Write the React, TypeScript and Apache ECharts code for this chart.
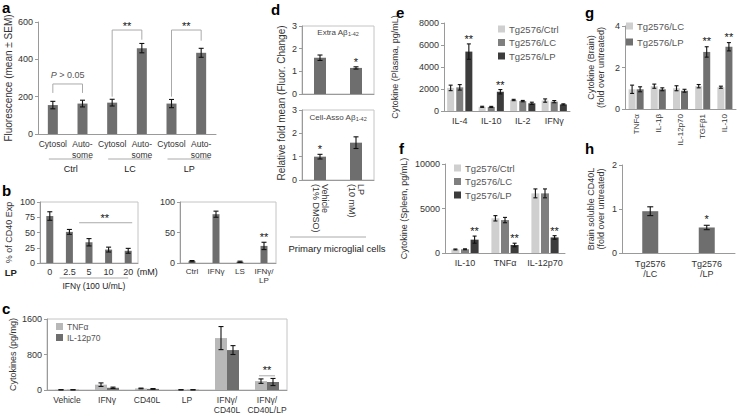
import React, { useEffect, useRef } from 'react';
import * as echarts from 'echarts';

const FN = "'Liberation Sans', Arial, sans-serif";
const FR = "'Liberation Sans', Arial, sans-serif";

// ---- panel a ----
const aCats = ['Cytosol', 'Auto-\nsome', 'Cytosol', 'Auto-\nsome', 'Cytosol', 'Auto-\nsome'];
const aGroups = ['Ctrl', 'LC', 'LP'];
const aVals = [155, 163, 168, 460, 163, 435];
const aErr = [20, 18, 18, 25, 22, 24];

// ---- panel b ----
const bLeftCats = ['0', '2.5', '5', '10', '20'];
const bLeftVals = [77, 51, 34, 22, 20];
const bLeftErr = [7, 4, 6, 4, 4];
const bRightCats = ['Ctrl', 'IFNγ', 'LS', 'IFNγ/\nLP'];
const bRightVals = [3, 80, 2, 28];
const bRightErr = [1, 5, 1, 6];

// ---- panel c ----
const cCats = ['Vehicle', 'IFNγ', 'CD40L', 'LP', 'IFNγ/\nCD40L', 'IFNγ/\nCD40L/LP'];
const cTnf = [5, 120, 35, 5, 1170, 200];
const cTnfErr = [2, 40, 8, 2, 260, 50];
const cIl12 = [5, 50, 25, 5, 900, 180];
const cIl12Err = [2, 15, 8, 2, 100, 80];

// ---- panel d ----
const dCats = ['Vehicle\n(1% DMSO)', 'LP\n(10 mM)'];
const dExtra = [1.6, 1.15];
const dExtraErr = [0.12, 0.05];
const dCell = [1.0, 1.6];
const dCellErr = [0.1, 0.25];

// ---- panel e ----
const eCats = ['IL-4', 'IL-10', 'IL-2', 'IFNγ'];
const eCtrl = [2100, 380, 1000, 950];
const eCtrlErr = [250, 50, 60, 150];
const eLC = [2150, 370, 900, 850];
const eLCErr = [250, 50, 60, 100];
const eLP = [5400, 1750, 700, 600];
const eLPErr = [700, 200, 100, 50];

// ---- panel f ----
const fCats = ['IL-10', 'TNFα', 'IL-12p70'];
const fCtrl = [400, 3900, 6700];
const fCtrlErr = [50, 300, 500];
const fLC = [420, 3700, 6700];
const fLCErr = [50, 300, 500];
const fLP = [1500, 900, 1750];
const fLPErr = [400, 200, 200];

// ---- panel g ----
const gCats = ['TNFα', 'IL-1β', 'IL-12p70', 'TGFβ1', 'IL-10'];
const gLC = [0.95, 1.1, 1.0, 1.1, 1.05];
const gLCErr = [0.2, 0.1, 0.12, 0.08, 0.05];
const gLP = [0.95, 0.95, 0.88, 2.75, 3.0];
const gLPErr = [0.12, 0.07, 0.07, 0.25, 0.2];

// ---- panel h ----
const hCats = ['Tg2576\n/LC', 'Tg2576\n/LP'];
const hVals = [0.95, 0.58];
const hErr = [0.1, 0.05];

const AX = '#9a9a9a';
const BOX = '#c4c4c4';
const TXT = '#333';
const DARK = '#6e6e6e';

function errSeries(g: number, vals: number[], errs: number[], offset = 0, cap = 2.5) {
  return {
    type: 'custom', xAxisIndex: g, yAxisIndex: g, silent: true, z: 5,
    data: vals.map((v, i) => [i, v - errs[i], v + errs[i]]),
    encode: { x: 0, y: [1, 2] },
    renderItem: (_p: any, api: any) => {
      const lo = api.coord([api.value(0), api.value(1)]);
      const hi = api.coord([api.value(0), api.value(2)]);
      const x = lo[0] + offset;
      const st = { stroke: '#111', lineWidth: 1.1 };
      return {
        type: 'group', children: [
          { type: 'line', shape: { x1: x, y1: lo[1], x2: x, y2: hi[1] }, style: st },
          { type: 'line', shape: { x1: x - cap, y1: lo[1], x2: x + cap, y2: lo[1] }, style: st },
          { type: 'line', shape: { x1: x - cap, y1: hi[1], x2: x + cap, y2: hi[1] }, style: st },
        ],
      };
    },
  };
}

function annSeries(g: number, specs: any[]) {
  return {
    type: 'custom', xAxisIndex: g, yAxisIndex: g, silent: true, z: 10,
    data: [[0, 0]],
    renderItem: (_p: any, api: any) => {
      const P = (x: number, y: number, dx = 0, dy = 0) => {
        const i0 = Math.floor(x);
        const f = x - i0;
        const a = api.coord([i0, y]);
        let px = a[0];
        if (f > 0) {
          const b = api.coord([i0 + 1, y]);
          px = a[0] + (b[0] - a[0]) * f;
        }
        return [px + dx, a[1] + dy];
      };
      const children = specs.map((s) => {
        if (s.t === 'poly') {
          return {
            type: 'polyline',
            shape: { points: s.pts.map((q: number[]) => P(q[0], q[1], q[2] || 0, q[3] || 0)) },
            style: { stroke: s.color || '#aaa', lineWidth: s.w || 1, fill: null },
          };
        }
        const [x, y] = P(s.x, s.y, s.dx || 0, s.dy || 0);
        return {
          type: 'text', x, y,
          style: {
            text: s.text, fill: s.color || '#222', fontSize: s.size || 9,
            fontFamily: s.font || FN, fontWeight: s.bold ? 'bold' : 'normal',
            align: s.align || 'center', verticalAlign: s.va || 'middle',
            textAlign: s.align || 'center', textVerticalAlign: s.va || 'middle',
            rich: s.rich,
          },
        };
      });
      return { type: 'group', children };
    },
  };
}

function catAxis(g: number, data: string[], label: any = {}) {
  return {
    type: 'category', gridIndex: g, data,
    axisTick: { show: false },
    axisLine: { show: true, lineStyle: { color: AX } },
    axisLabel: { interval: 0, fontSize: 9, color: TXT, fontFamily: FN, margin: 4, ...label },
  };
}

function valAxis(g: number, min: number, max: number, interval: number, extra: any = {}) {
  return {
    type: 'value', gridIndex: g, min, max, interval,
    splitLine: { show: false },
    axisLine: { show: true, lineStyle: { color: AX } },
    axisTick: { show: true, length: 3, lineStyle: { color: AX } },
    axisLabel: { fontSize: 9, color: TXT, fontFamily: FN, margin: 5, formatter: (v: number) => String(v) },
    nameLocation: 'middle', nameRotate: 90,
    nameTextStyle: { fontSize: 9, color: TXT, fontFamily: FR, lineHeight: 10 },
    ...extra,
  };
}

function bar(g: number, name: string, data: number[], color: string, w: number, gap = '0%') {
  return {
    type: 'bar', name, xAxisIndex: g, yAxisIndex: g, data, barWidth: w, barGap: gap,
    itemStyle: { color }, silent: true,
  };
}

const star = (x: number, y: number, text = '**', dx = 0) =>
  ({ t: 'text', x, y, dx, dy: 1, text, size: 11, va: 'bottom', color: '#111', font: FR });

function legend(names: string[], left: number, top: number, gap: number, size: number) {
  return {
    data: names, left, top, orient: 'vertical', itemWidth: 7, itemHeight: 7, itemGap: gap,
    icon: 'rect', padding: 0, selectedMode: false,
    textStyle: { fontSize: size, color: '#555', fontFamily: FN, padding: [0, 0, 0, -1] },
    formatter: (n: string) => n.slice(2),
  };
}

function buildOption() {
  const grids = [
    { left: 38, top: 22, width: 178, height: 112 },
    { left: 40, top: 202, width: 98, height: 61, show: true, borderColor: BOX },
    { left: 180, top: 202, width: 96, height: 61, show: true, borderColor: BOX },
    { left: 47, top: 319, width: 240, height: 73, show: true, borderColor: BOX },
    { left: 302, top: 26, width: 72, height: 68, show: true, borderColor: BOX },
    { left: 302, top: 110, width: 72, height: 70, show: true, borderColor: BOX },
    { left: 444, top: 23, width: 126, height: 88 },
    { left: 445, top: 164, width: 120, height: 89 },
    { left: 625, top: 26, width: 111, height: 83 },
    { left: 622, top: 165, width: 113, height: 88 },
  ];

  const xAxis = [
    catAxis(0, aCats, { fontSize: 8.5, lineHeight: 11 }),
    catAxis(1, bLeftCats, { fontSize: 9, margin: 4 }),
    catAxis(2, bRightCats, { fontSize: 8, lineHeight: 9, margin: 4 }),
    catAxis(3, cCats, { fontSize: 8.5, lineHeight: 10, margin: 5 }),
    catAxis(4, dCats, { show: false }),
    catAxis(5, dCats, { rotate: -90, fontFamily: FR, fontSize: 9, lineHeight: 9, margin: 4 }),
    catAxis(6, eCats, { fontSize: 9, margin: 5 }),
    catAxis(7, fCats, { fontSize: 9, margin: 5 }),
    catAxis(8, gCats, { rotate: 90, fontFamily: FR, fontSize: 8, margin: 5 }),
    catAxis(9, hCats, { fontSize: 9, lineHeight: 10, margin: 6 }),
  ];

  const yAxis = [
    valAxis(0, 0, 600, 200, { name: 'Fluorescence (mean ± SEM)', nameGap: 25, nameTextStyle: { fontSize: 10, color: TXT, fontFamily: FR } }),
    valAxis(1, 0, 100, 25, { name: '% of CD40 Exp', nameGap: 26 }),
    valAxis(2, 0, 100, 50),
    valAxis(3, 0, 1600, 800, { name: 'Cytokines (pg/mg)', nameGap: 27 }),
    valAxis(4, 0, 3, 1),
    valAxis(5, 0, 3, 1),
    valAxis(6, 0, 8000, 2000, { name: 'Cytokine (Plasma, pg/mL)', nameGap: 44 }),
    valAxis(7, 0, 10000, 5000, { name: 'Cytokine (Spleen, pg/mL)', nameGap: 36 }),
    valAxis(8, 0, 4, 2, { name: 'Cytokine (Brain)\n(fold over untreated)', nameGap: 19 }),
    valAxis(9, 0, 2, 1, { name: 'Brain soluble CD40L\n(fold over untreated)', nameGap: 16 }),
  ];

  const LG = '#cfcfcf';
  const MG = '#7f7f7f';
  const DG = '#3c3c3c';

  const series: any[] = [
    // a
    bar(0, 'a', aVals, DARK, 10),
    errSeries(0, aVals, aErr),
    annSeries(0, [
      { t: 'poly', pts: [[0, 220], [0, 268], [1, 268], [1, 220]] },
      { t: 'text', x: 0.5, y: 268, dy: -4, va: 'bottom', size: 9, color: '#555', text: '{i|P} > 0.05', rich: { i: { fontStyle: 'italic', fontSize: 9, fontFamily: FN, fill: '#555' } } },
      { t: 'poly', pts: [[2, 200], [2, 557], [3, 557], [3, 505]] },
      star(2.5, 557),
      { t: 'poly', pts: [[4, 200], [4, 557], [5, 557], [5, 500]] },
      star(4.5, 557),
      ...aGroups.flatMap((g, k) => [
        { t: 'poly', pts: [[2 * k, 0, -4, 25], [2 * k + 1, 0, 9, 25]] },
        { t: 'text', x: 2 * k + 0.5, y: 0, dx: 3, dy: 35, text: g, size: 9 },
      ]),
    ]),
    // b left
    bar(1, 'bl', bLeftVals, DARK, 7),
    errSeries(1, bLeftVals, bLeftErr),
    annSeries(1, [
      { t: 'poly', pts: [[1.5, 66], [4, 66, 4]] },
      star(2.8, 66),
      { t: 'text', x: 0, y: 0, dx: -39, dy: 9, text: 'LP', bold: true, size: 9.5 },
      { t: 'text', x: 4, y: 0, dx: 19, dy: 9, text: '(mM)', size: 9 },
      { t: 'poly', pts: [[0.5, 0, 0, 15], [4, 0, 0, 15]] },
      { t: 'text', x: 2.25, y: 0, dx: 0, dy: 23, text: 'IFNγ (100 U/mL)', size: 8.5 },
    ]),
    // b right
    bar(2, 'br', bRightVals, DARK, 7),
    errSeries(2, bRightVals, bRightErr),
    annSeries(2, [star(3, 36)]),
    // c
    bar(3, 'c:TNFα', cTnf, '#b8b8b8', 12),
    bar(3, 'c:IL-12p70', cIl12, DARK, 12),
    errSeries(3, cTnf, cTnfErr, -6),
    errSeries(3, cIl12, cIl12Err, 6),
    annSeries(3, [
      { t: 'poly', pts: [[5, 320, -8], [5, 320, 8]] },
      star(5, 350),
    ]),
    // d
    bar(4, 'dt', dExtra, DARK, 12),
    errSeries(4, dExtra, dExtraErr),
    annSeries(4, [
      star(1, 1.22, '*'),
      { t: 'text', x: 0.5, y: 3, dy: 6, text: 'Extra Aβ{s|1-42}', size: 8, color: '#444', rich: { s: { fontSize: 5.5, fontFamily: FN, fill: '#444', verticalAlign: 'bottom', padding: [4, 0, 0, 0] } } },
    ]),
    bar(5, 'db', dCell, DARK, 12),
    errSeries(5, dCell, dCellErr),
    annSeries(5, [
      star(0, 1.12, '*'),
      { t: 'text', x: 0.5, y: 3, dy: 7, text: 'Cell-Asso Aβ{s|1-42}', size: 8, color: '#444', rich: { s: { fontSize: 5.5, fontFamily: FN, fill: '#444', verticalAlign: 'bottom', padding: [4, 0, 0, 0] } } },
    ]),
    // e
    bar(6, 'e:Tg2576/Ctrl', eCtrl, LG, 7, '30%'),
    bar(6, 'e:Tg2576/LC', eLC, MG, 7, '30%'),
    bar(6, 'e:Tg2576/LP', eLP, DG, 7, '30%'),
    errSeries(6, eCtrl, eCtrlErr, -9.1, 2),
    errSeries(6, eLC, eLCErr, 0, 2),
    errSeries(6, eLP, eLPErr, 9.1, 2),
    annSeries(6, [star(0, 6150, '**', 9.1), star(1, 1980, '**', 9.1)]),
    // f
    bar(7, 'f:Tg2576/Ctrl', fCtrl, LG, 8, '20%'),
    bar(7, 'f:Tg2576/LC', fLC, MG, 8, '20%'),
    bar(7, 'f:Tg2576/LP', fLP, DG, 8, '20%'),
    errSeries(7, fCtrl, fCtrlErr, -9.6, 2),
    errSeries(7, fLC, fLCErr, 0, 2),
    errSeries(7, fLP, fLPErr, 9.6, 2),
    annSeries(7, [star(0, 1950, '**', 9.6), star(1, 1150, '**', 9.6), star(2, 2000, '**', 9.6)]),
    // g
    bar(8, 'g:Tg2576/LC', gLC, LG, 7, '15%'),
    bar(8, 'g:Tg2576/LP', gLP, '#707070', 7, '15%'),
    errSeries(8, gLC, gLCErr, -4, 2),
    errSeries(8, gLP, gLPErr, 4, 2),
    annSeries(8, [star(3, 3.05, '**', 4), star(4, 3.25, '**', 4)]),
    // h
    bar(9, 'h', hVals, DARK, 16),
    errSeries(9, hVals, hErr, 0, 3),
    annSeries(9, [star(1, 0.66, '*')]),
  ];

  const letter = (t: string, x: number, y: number) => ({
    type: 'text', x, y, silent: true,
    style: { text: t, fill: '#000', fontSize: 15, fontWeight: 'bold', fontFamily: FN, verticalAlign: 'bottom', textVerticalAlign: 'bottom' },
  });

  const graphic = [
    letter('a', 2, 15),
    letter('b', 2, 198),
    letter('c', 2, 316),
    letter('d', 271, 17),
    letter('e', 396, 20),
    letter('f', 399, 156),
    letter('g', 585, 20),
    letter('h', 585, 156),
    {
      type: 'text', x: 281, y: 103, rotation: Math.PI / 2, silent: true,
      style: { text: 'Relative fold mean (Fluor. Change)', fill: TXT, fontSize: 10, fontFamily: FR, align: 'center', verticalAlign: 'middle', textAlign: 'center', textVerticalAlign: 'middle' },
    },
    { type: 'line', silent: true, shape: { x1: 290, y1: 237, x2: 366, y2: 237 }, style: { stroke: '#aaa', lineWidth: 1 } },
    {
      type: 'text', x: 337, y: 248, silent: true,
      style: { text: 'Primary microglial cells', fill: '#222', fontSize: 9.5, fontFamily: FN, align: 'center', verticalAlign: 'middle', textAlign: 'center', textVerticalAlign: 'middle' },
    },
  ];

  return {
    animation: false,
    backgroundColor: '#fff',
    textStyle: { fontFamily: FN },
    grid: grids,
    xAxis,
    yAxis,
    legend: [
      legend(['c:TNFα', 'c:IL-12p70'], 56, 322, 2, 8.5),
      legend(['e:Tg2576/Ctrl', 'e:Tg2576/LC', 'e:Tg2576/LP'], 498, 24, 3.5, 9.5),
      legend(['f:Tg2576/Ctrl', 'f:Tg2576/LC', 'f:Tg2576/LP'], 454, 163, 3.5, 9.5),
      legend(['g:Tg2576/LC', 'g:Tg2576/LP'], 626, 21, 6, 9.5),
    ],
    series,
    graphic,
  };
}

export default function App() {
  const ref = useRef<HTMLDivElement>(null);
  useEffect(() => {
    if (!ref.current) return;
    const chart = echarts.init(ref.current, undefined, { renderer: 'svg' });
    chart.setOption(buildOption() as any);
    return () => chart.dispose();
  }, []);
  return (
    <div
      ref={ref}
      style={{ position: 'fixed', left: 0, top: 0, width: 737, height: 415, background: '#fff' }}
    />
  );
}
